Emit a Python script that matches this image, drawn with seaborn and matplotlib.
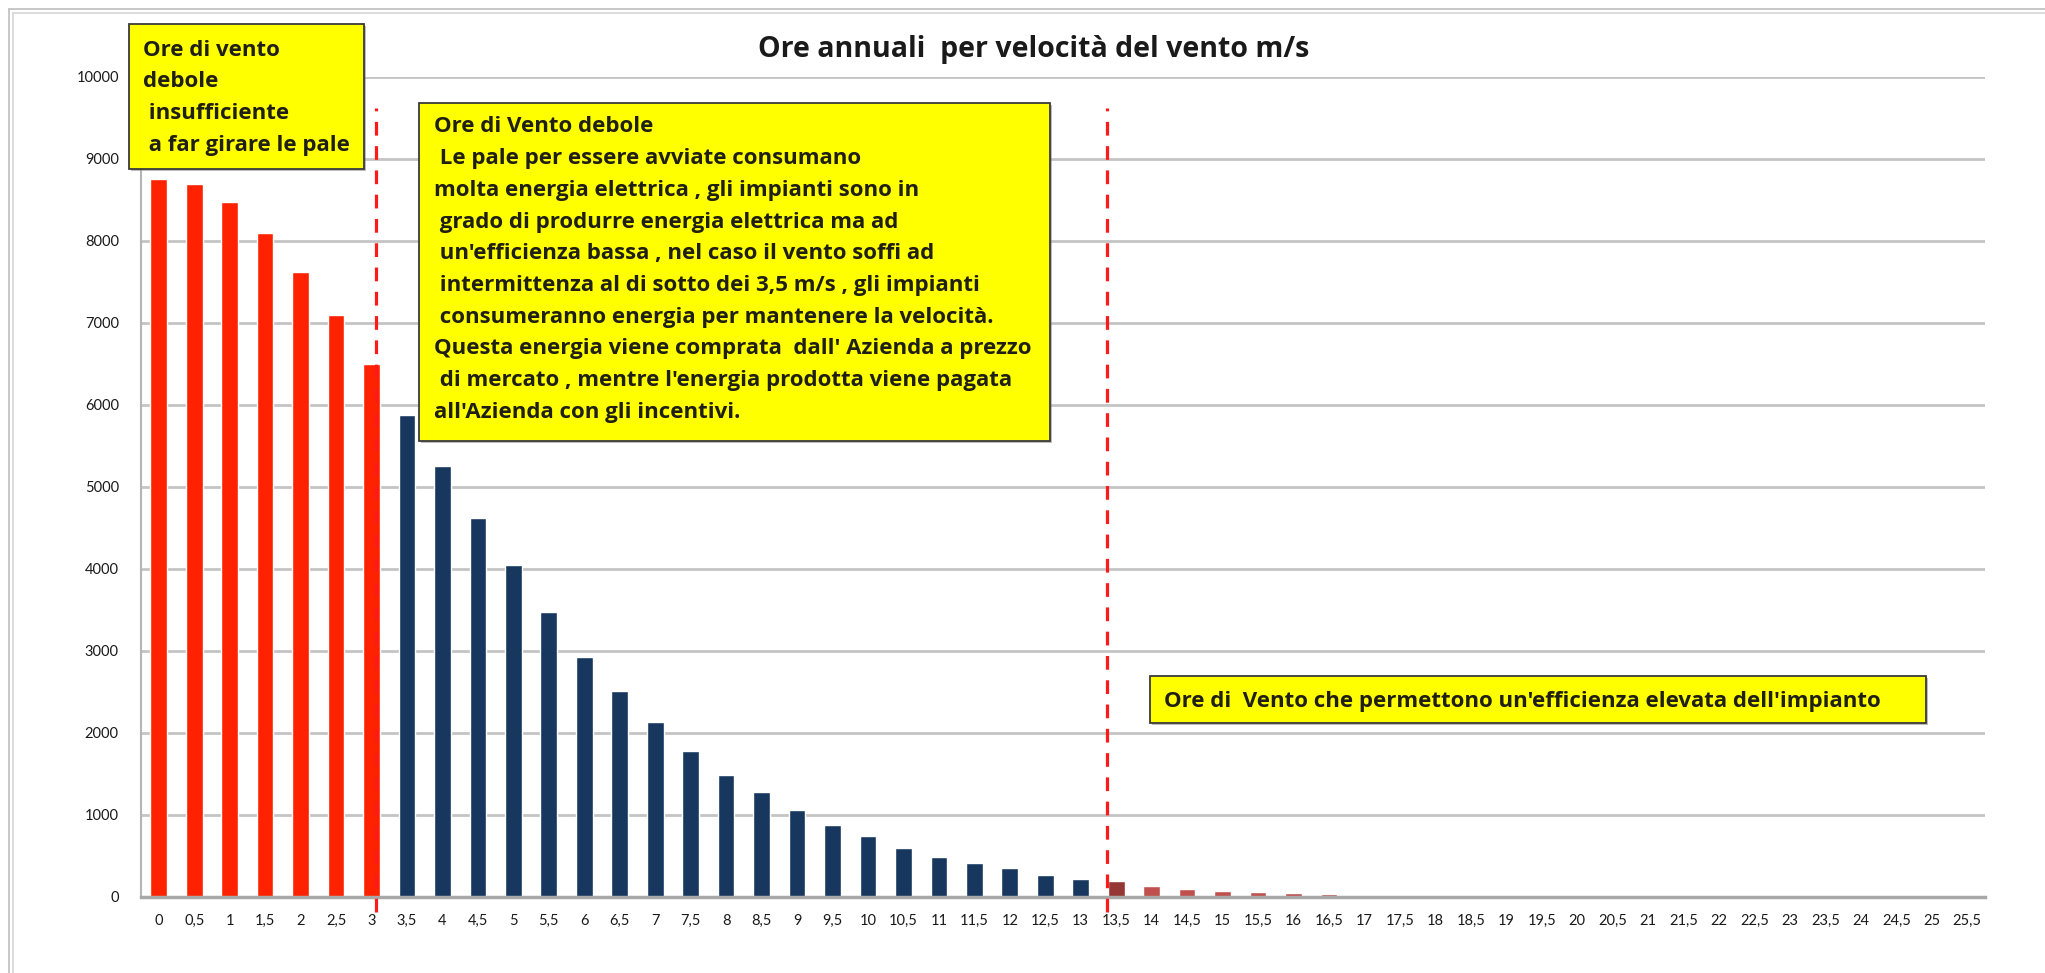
import matplotlib
matplotlib.use("Agg")
import matplotlib.pyplot as plt
import pandas as pd
import seaborn as sns
from matplotlib.patches import Rectangle
from matplotlib.lines import Line2D

# Wind speed classes (m/s) and yearly hours per class
velocita = ["0", "0,5", "1", "1,5", "2", "2,5", "3", "3,5", "4", "4,5",
            "5", "5,5", "6", "6,5", "7", "7,5", "8", "8,5", "9", "9,5",
            "10", "10,5", "11", "11,5", "12", "12,5", "13", "13,5", "14", "14,5",
            "15", "15,5", "16", "16,5", "17", "17,5", "18", "18,5", "19", "19,5",
            "20", "20,5", "21", "21,5", "22", "22,5", "23", "23,5", "24", "24,5",
            "25", "25,5"]
ore = [8760, 8700, 8480, 8100, 7620, 7100, 6500, 5880, 5260, 4620,
       4050, 3480, 2930, 2510, 2130, 1780, 1490, 1280, 1060, 880,
       740, 600, 490, 420, 350, 270, 215, 190, 140, 100,
       78, 60, 48, 38, 28, 20, 10, 6, 4, 0,
       0, 0, 0, 0, 0, 0, 0, 0, 0, 0,
       0, 0]
fasce = (["insufficiente"] * 7 + ["bassa"] * 20 + ["soglia"] + ["elevata"] * 24)
colori = {"insufficiente": "#FF2200", "bassa": "#17375E",
          "soglia": "#953735", "elevata": "#C0504D"}
fasce_ordine = ["insufficiente", "bassa", "soglia", "elevata"]

# Dashed separators: (category, offset in category units)
separatori = [("3", 0.12), ("13,5", -0.25)]

titolo = "Ore annuali  per velocità del vento m/s"
nota_sx = ["Ore di vento", "debole", " insufficiente", " a far girare le pale"]
nota_centro = [
    "Ore di Vento debole",
    " Le pale per essere avviate consumano",
    "molta energia elettrica , gli impianti sono in",
    " grado di produrre energia elettrica ma ad",
    " un'efficienza bassa , nel caso il vento soffi ad",
    " intermittenza al di sotto dei 3,5 m/s , gli impianti",
    " consumeranno energia per mantenere la velocità.",
    "Questa energia viene comprata  dall' Azienda a prezzo",
    " di mercato , mentre l'energia prodotta viene pagata",
    "all'Azienda con gli incentivi.",
]
nota_dx = "Ore di  Vento che permettono un'efficienza elevata dell'impianto"

W, H = 2045, 973
sns.set_theme(style="white")
plt.rcParams["font.family"] = ["Lato", "DejaVu Sans"]
NOTE_FONT = ["Open Sans", "DejaVu Sans"]

fig = plt.figure(figsize=(W / 100, H / 100), dpi=100)
fig.patch.set_facecolor("white")


def fx(px):
    return px / W


def fy(py):
    return 1 - py / H


ax = fig.add_axes([fx(141), fy(897), (1985 - 141) / W, (897 - 77) / H])

df = pd.DataFrame({"velocita": velocita, "ore": ore, "fascia": fasce})
sns.barplot(data=df, x="velocita", y="ore", hue="fascia", order=velocita,
            hue_order=fasce_ordine, palette=colori, dodge=False, width=0.47,
            saturation=1, errorbar=None, legend=False, ax=ax, zorder=3)

ax.set_xlim(-0.5, len(velocita) - 0.5)
ax.set_ylim(0, 10000)
ax.set_yticks(range(0, 10001, 1000))
ax.set_xlabel("")
ax.set_ylabel("")
ax.set_axisbelow(True)
ax.yaxis.grid(True, color="#C4C4C4", lw=2.0)
ax.xaxis.grid(False)

for s in ("top", "right"):
    ax.spines[s].set_visible(False)
ax.spines["left"].set_color("#B5B5B5")
ax.spines["left"].set_linewidth(1.5)
ax.spines["bottom"].set_color("#A8A8A8")
ax.spines["bottom"].set_linewidth(2.5)
ax.spines["bottom"].set_zorder(4)

ax.tick_params(axis="y", which="major", direction="out", length=6, width=1.5,
               color="#B5B5B5", labelsize=10.5, labelcolor="#1a1a1a", pad=10)
ax.tick_params(axis="x", which="major", length=0, labelsize=10.5,
               labelcolor="#1a1a1a", pad=12)
ax.set_xticks([i - 0.5 for i in range(len(velocita) + 1)], minor=True)
ax.tick_params(axis="x", which="minor", direction="out", length=5, width=1.2,
               color="#A8A8A8")

# Dashed threshold lines
for cat, off in separatori:
    xpos = velocita.index(cat) + off
    ax.plot([xpos, xpos], [-180, 9620], color="#FF1A1A", lw=2.3,
            ls=(0, (4.3, 3.3)), clip_on=False, zorder=5)

# Title
fig.text(fx(1034), fy(50), titolo, ha="center", va="center", fontsize=20.5,
         fontweight="bold", color="#1a1a1a", family=NOTE_FONT)

# Outer chart frame (top and left edges)
for off, col in ((9, "#BDBDBD"), (13, "#D6D6D6")):
    fig.add_artist(Line2D([fx(off), 1.0], [fy(off), fy(off)],
                          transform=fig.transFigure, color=col, lw=1.2))
    fig.add_artist(Line2D([fx(off), fx(off)], [fy(off), 0.0],
                          transform=fig.transFigure, color=col, lw=1.2))


def box(x0, y0, x1, y1):
    fig.add_artist(Rectangle((fx(x0 + 2), fy(y1 + 2)), (x1 - x0) / W,
                             (y1 - y0) / H, transform=fig.transFigure,
                             facecolor="#7a7a7a", edgecolor="none",
                             alpha=0.5, zorder=6))
    fig.add_artist(Rectangle((fx(x0), fy(y1)), (x1 - x0) / W, (y1 - y0) / H,
                             transform=fig.transFigure, facecolor="#FFFF00",
                             edgecolor="#3a3a3a", lw=1.3, zorder=7))


def righe(lines, x, y_first, step, size):
    for i, t in enumerate(lines):
        fig.text(fx(x), fy(y_first + i * step), t, ha="left", va="center",
                 fontsize=size, fontweight="bold", color="#1f1f14",
                 family=NOTE_FONT, zorder=8)


box(129, 24, 364, 169)
righe(nota_sx, 143, 50, 31.7, 16)

box(419, 103, 1050, 441)
righe(nota_centro, 434, 127, 31.7, 16)

box(1150, 676, 1926, 723)
righe([nota_dx], 1164, 701, 0, 16)

fig.savefig("out.png", dpi=100, facecolor="white")
